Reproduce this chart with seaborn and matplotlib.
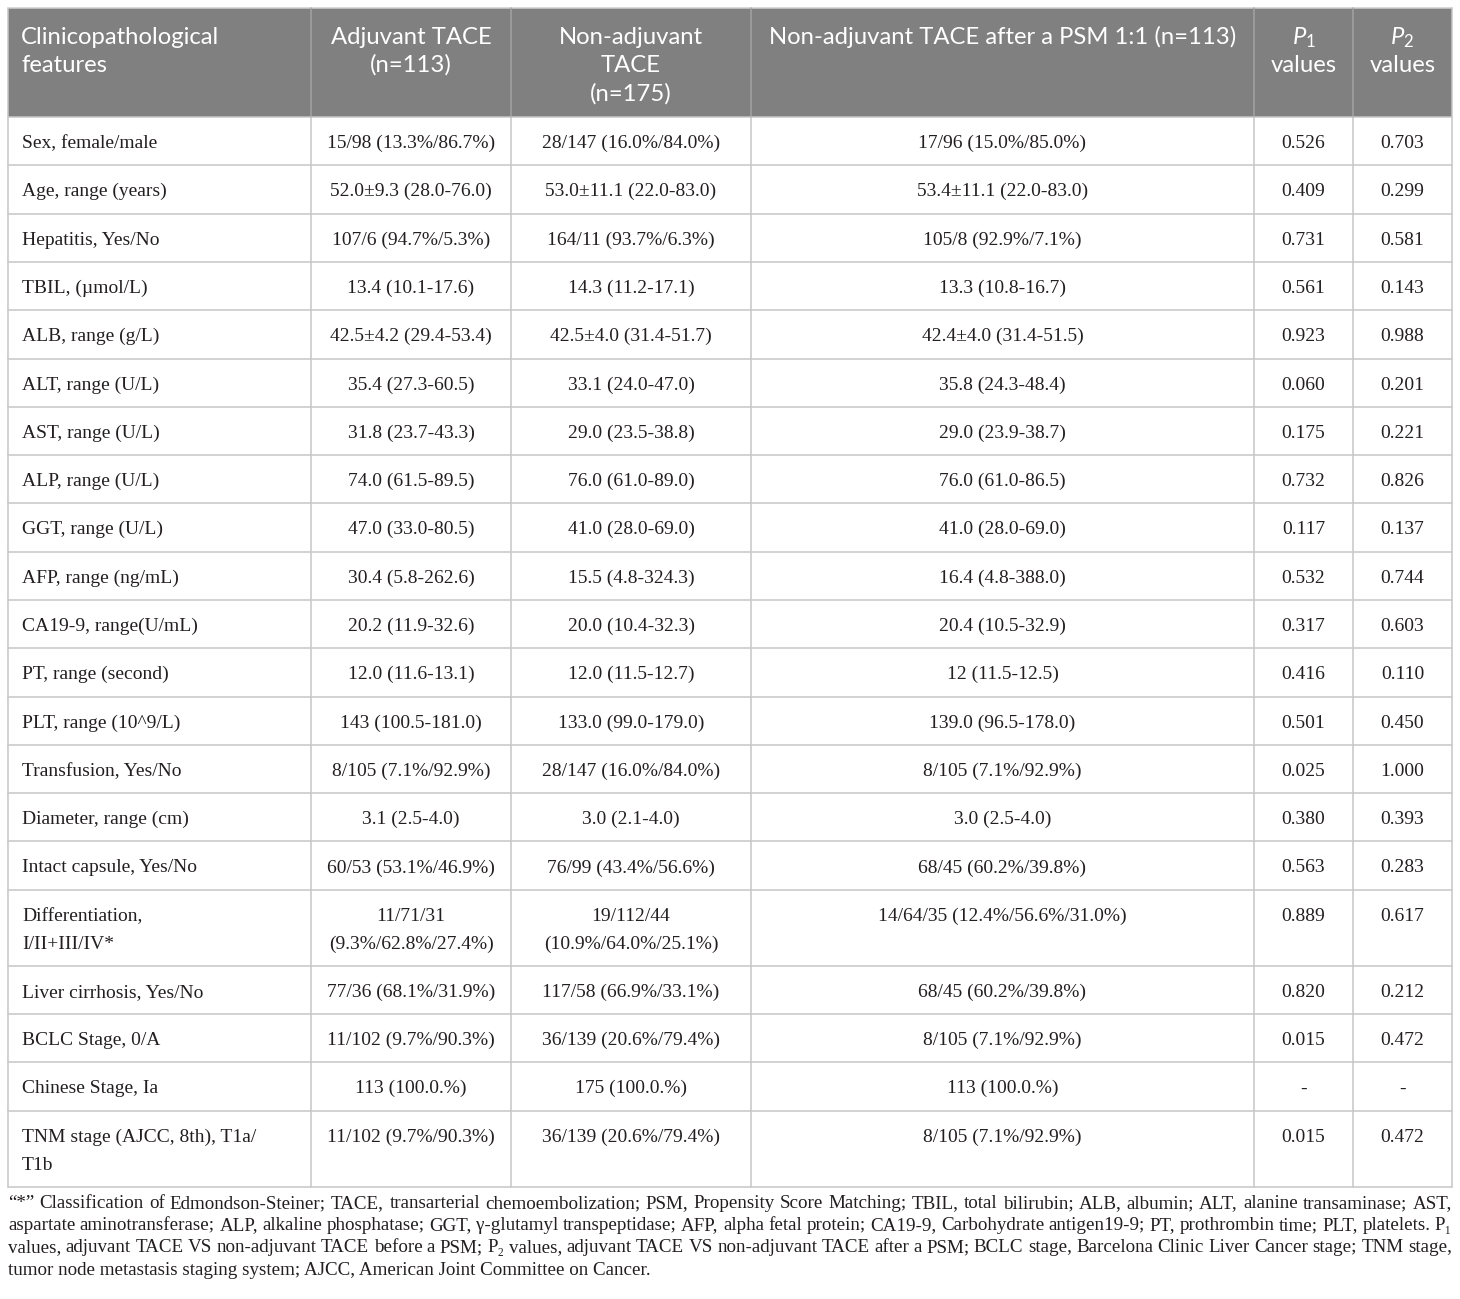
import numpy as np
import pandas as pd
import seaborn as sns
import matplotlib
matplotlib.use("Agg")
import matplotlib.pyplot as plt
from matplotlib.patches import Rectangle

# ---------------- data ----------------
features = [
    "Sex, female/male", "Age, range (years)", "Hepatitis, Yes/No", "TBIL, (\u00b5mol/L)",
    "ALB, range (g/L)", "ALT, range (U/L)", "AST, range (U/L)", "ALP, range (U/L)",
    "GGT, range (U/L)", "AFP, range (ng/mL)", "CA19-9, range(U/mL)", "PT, range (second)",
    "PLT, range (10^9/L)", "Transfusion, Yes/No", "Diameter, range (cm)",
    "Intact capsule, Yes/No", "Differentiation,\nI/II+III/IV*", "Liver cirrhosis, Yes/No",
    "BCLC Stage, 0/A", "Chinese Stage, Ia", "TNM stage (AJCC, 8th), T1a/\nT1b",
]
adjuvant = [
    "15/98 (13.3%/86.7%)", "52.0\u00b19.3 (28.0-76.0)", "107/6 (94.7%/5.3%)", "13.4 (10.1-17.6)",
    "42.5\u00b14.2 (29.4-53.4)", "35.4 (27.3-60.5)", "31.8 (23.7-43.3)", "74.0 (61.5-89.5)",
    "47.0 (33.0-80.5)", "30.4 (5.8-262.6)", "20.2 (11.9-32.6)", "12.0 (11.6-13.1)",
    "143 (100.5-181.0)", "8/105 (7.1%/92.9%)", "3.1 (2.5-4.0)", "60/53 (53.1%/46.9%)",
    "11/71/31\n(9.3%/62.8%/27.4%)", "77/36 (68.1%/31.9%)", "11/102 (9.7%/90.3%)",
    "113 (100.0.%)", "11/102 (9.7%/90.3%)",
]
non_adjuvant = [
    "28/147 (16.0%/84.0%)", "53.0\u00b111.1 (22.0-83.0)", "164/11 (93.7%/6.3%)", "14.3 (11.2-17.1)",
    "42.5\u00b14.0 (31.4-51.7)", "33.1 (24.0-47.0)", "29.0 (23.5-38.8)", "76.0 (61.0-89.0)",
    "41.0 (28.0-69.0)", "15.5 (4.8-324.3)", "20.0 (10.4-32.3)", "12.0 (11.5-12.7)",
    "133.0 (99.0-179.0)", "28/147 (16.0%/84.0%)", "3.0 (2.1-4.0)", "76/99 (43.4%/56.6%)",
    "19/112/44\n(10.9%/64.0%/25.1%)", "117/58 (66.9%/33.1%)", "36/139 (20.6%/79.4%)",
    "175 (100.0.%)", "36/139 (20.6%/79.4%)",
]
psm_matched = [
    "17/96 (15.0%/85.0%)", "53.4\u00b111.1 (22.0-83.0)", "105/8 (92.9%/7.1%)", "13.3 (10.8-16.7)",
    "42.4\u00b14.0 (31.4-51.5)", "35.8 (24.3-48.4)", "29.0 (23.9-38.7)", "76.0 (61.0-86.5)",
    "41.0 (28.0-69.0)", "16.4 (4.8-388.0)", "20.4 (10.5-32.9)", "12 (11.5-12.5)",
    "139.0 (96.5-178.0)", "8/105 (7.1%/92.9%)", "3.0 (2.5-4.0)", "68/45 (60.2%/39.8%)",
    "14/64/35 (12.4%/56.6%/31.0%)", "68/45 (60.2%/39.8%)", "8/105 (7.1%/92.9%)",
    "113 (100.0.%)", "8/105 (7.1%/92.9%)",
]
p1_values = ["0.526", "0.409", "0.731", "0.561", "0.923", "0.060", "0.175", "0.732", "0.117",
             "0.532", "0.317", "0.416", "0.501", "0.025", "0.380", "0.563", "0.889", "0.820",
             "0.015", "-", "0.015"]
p2_values = ["0.703", "0.299", "0.581", "0.143", "0.988", "0.201", "0.221", "0.826", "0.137",
             "0.744", "0.603", "0.110", "0.450", "1.000", "0.393", "0.283", "0.617", "0.212",
             "0.472", "-", "0.472"]
header_labels = [
    "Clinicopathological\nfeatures", "Adjuvant TACE\n(n=113)", "Non-adjuvant\nTACE\n(n=175)",
    "Non-adjuvant TACE after a PSM 1:1 (n=113)", "$P_1$\nvalues", "$P_2$\nvalues",
]
footnote_lines = [
    "\u201c*\u201d Classification of Edmondson-Steiner; TACE, transarterial chemoembolization; PSM, Propensity Score Matching; TBIL, total bilirubin; ALB, albumin; ALT, alanine transaminase; AST,",
    "aspartate aminotransferase; ALP, alkaline phosphatase; GGT, \u03b3-glutamyl transpeptidase; AFP, alpha fetal protein; CA19-9, Carbohydrate antigen19-9; PT, prothrombin time; PLT, platelets. P\u2081",
    "values, adjuvant TACE VS non-adjuvant TACE before a PSM; P\u2082 values, adjuvant TACE VS non-adjuvant TACE after a PSM; BCLC stage, Barcelona Clinic Liver Cancer stage; TNM stage,",
    "tumor node metastasis staging system; AJCC, American Joint Committee on Cancer.",
]

table = pd.DataFrame({
    "feature": features, "adj": adjuvant, "nonadj": non_adjuvant,
    "psm": psm_matched, "p1": p1_values, "p2": p2_values,
})

# ---------------- style ----------------
sns.set_theme(style="white")
SERIF = ["Liberation Serif", "DejaVu Serif"]
SANS = ["Lato", "Open Sans", "DejaVu Sans"]
plt.rcParams["font.family"] = SERIF
plt.rcParams["mathtext.fontset"] = "custom"
plt.rcParams["mathtext.it"] = "Lato:italic"
plt.rcParams["mathtext.rm"] = "Lato"
plt.rcParams["mathtext.bf"] = "Lato:bold"

W, H = 1460, 1299
fig = plt.figure(figsize=(W / 100, H / 100), dpi=100)
ax = fig.add_axes([0, 0, 1, 1])
ax.set_xlim(0, W)
ax.set_ylim(H, 0)
ax.axis("off")
renderer = fig.canvas.get_renderer()

def text_width(s, **kw):
    t = ax.text(0, 0, s, **kw)
    w = t.get_window_extent(renderer).width
    t.remove()
    return w

def fit_size(s, target, family, base=14.0, **kw):
    return base * target / text_width(s, fontsize=base, family=family, **kw)

col_edges = [8, 311, 511, 751, 1254, 1353, 1452]
table_top, header_bottom = 8, 117
single_h, double_h = 48.3, 76.0
header_bg = "#808080"
grid_col = "#c6c6c6"
head_sep = "#a3a3a3"
txt_col = "#231f20"

body_fs = 14.0
head_fs = fit_size("Non-adjuvant TACE after a PSM 1:1 (n=113)", 469, SANS)
foot_fs = fit_size(footnote_lines[-1], 647, SERIF)

# header background
ax.add_patch(Rectangle((col_edges[0], table_top), col_edges[-1] - col_edges[0],
                       header_bottom - table_top, facecolor=header_bg, edgecolor="none", zorder=1))

# header text
head_base = [44, 72, 101]
for ci, lab in enumerate(header_labels):
    lines = lab.split("\n")
    for li, line in enumerate(lines):
        if ci == 0:
            ax.text(21, head_base[li], line, fontsize=head_fs, family=SANS, color="white",
                    ha="left", va="baseline", zorder=3)
        else:
            xc = (col_edges[ci] + col_edges[ci + 1]) / 2
            ax.text(xc, head_base[li], line, fontsize=head_fs, family=SANS, color="white",
                    ha="center", va="baseline", zorder=3)

# rows
cols = ["feature", "adj", "nonadj", "psm", "p1", "p2"]
y = header_bottom
row_tops = []
for ri, row in table.iterrows():
    nlines = max(str(row[c]).count("\n") + 1 for c in cols)
    h = single_h if nlines == 1 else double_h
    row_tops.append((y, h))
    for ci, c in enumerate(cols):
        for li, line in enumerate(str(row[c]).split("\n")):
            yb = y + 31 + li * 28
            if ci == 0:
                ax.text(22, yb, line, fontsize=body_fs, family=SERIF, color=txt_col,
                        ha="left", va="baseline", zorder=3)
            else:
                xc = (col_edges[ci] + col_edges[ci + 1]) / 2
                ax.text(xc, yb, line, fontsize=body_fs, family=SERIF, color=txt_col,
                        ha="center", va="baseline", zorder=3)
    y += h
table_bottom = y

# grid lines
lw = 1.1
for top, h in row_tops[1:]:
    ax.plot([col_edges[0], col_edges[-1]], [top, top], color=grid_col, lw=lw, zorder=2)
ax.plot([col_edges[0], col_edges[-1]], [header_bottom, header_bottom], color=grid_col, lw=lw, zorder=2)
ax.plot([col_edges[0], col_edges[-1]], [table_bottom, table_bottom], color=grid_col, lw=lw, zorder=2)
ax.plot([col_edges[0], col_edges[-1]], [table_top, table_top], color="#d0d0d0", lw=lw, zorder=2)
for xe in col_edges[1:-1]:
    ax.plot([xe, xe], [table_top, header_bottom], color=head_sep, lw=lw, zorder=2)
    ax.plot([xe, xe], [header_bottom, table_bottom], color=grid_col, lw=lw, zorder=2)
for xe in (col_edges[0], col_edges[-1]):
    ax.plot([xe, xe], [table_top, table_bottom], color=grid_col, lw=lw, zorder=2)

# footnote (justified)
foot_base = [1208, 1230, 1252, 1275]
x0, x1 = 8, 1452
for li, line in enumerate(footnote_lines):
    if li == len(footnote_lines) - 1:
        ax.text(x0, foot_base[li], line, fontsize=foot_fs, family=SERIF, color=txt_col,
                ha="left", va="baseline")
        continue
    words = line.split(" ")
    widths = [text_width(w, fontsize=foot_fs, family=SERIF) for w in words]
    gap = (x1 - x0 - sum(widths)) / (len(words) - 1)
    x = x0
    for w, wd in zip(words, widths):
        ax.text(x, foot_base[li], w, fontsize=foot_fs, family=SERIF, color=txt_col,
                ha="left", va="baseline")
        x += wd + gap

fig.savefig("out.png", dpi=100, facecolor="white")
